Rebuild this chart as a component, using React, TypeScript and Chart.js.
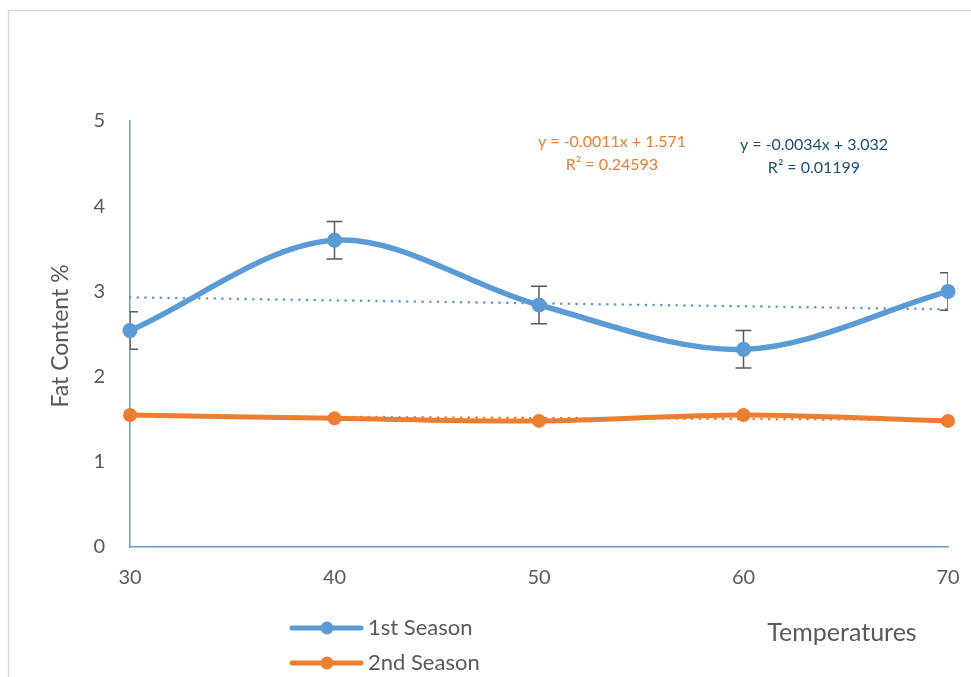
import React, { useEffect, useRef } from "react";
import { Chart, registerables } from "chart.js";

Chart.register(...registerables);

const temperatures = [30, 40, 50, 60, 70];
const season1 = [2.54, 3.6, 2.84, 2.32, 3.0];
const season2 = [1.55, 1.51, 1.48, 1.55, 1.48];
const season1Err = [0.22, 0.22, 0.22, 0.22, 0.22];
const trendX = [30, 70];
const trend1 = [2.93, 2.79];
const trend2 = [1.54, 1.49];
const yTicks = [0, 1, 2, 3, 4, 5];
const seriesNames = ["1st Season", "2nd Season"];
const trendText1 = ["y = -0.0034x + 3.032", "R² = 0.01199"];
const trendText2 = ["y = -0.0011x + 1.571", "R² = 0.24593"];

const BLUE = "#5b9bd5";
const ORANGE = "#ed7d31";
const GRAY = "#595959";
const FONT = "Lato, 'Open Sans', sans-serif";

export default function App() {
  const ref = useRef<HTMLCanvasElement | null>(null);

  useEffect(() => {
    if (!ref.current) return;

    const errorBars = {
      id: "errorBars",
      beforeDatasetDraw(chart: any, args: any) {
        if (args.index !== 0) return;
        const { ctx, chartArea } = chart;
        const xs = chart.scales.x;
        const ys = chart.scales.y;
        ctx.save();
        ctx.beginPath();
        ctx.rect(chartArea.left, chartArea.top, chartArea.right - chartArea.left, chartArea.bottom - chartArea.top);
        ctx.clip();
        ctx.strokeStyle = GRAY;
        ctx.lineWidth = 1.5;
        temperatures.forEach((t, i) => {
          const x = xs.getPixelForValue(t);
          const y1 = ys.getPixelForValue(season1[i] + season1Err[i]);
          const y2 = ys.getPixelForValue(season1[i] - season1Err[i]);
          ctx.beginPath();
          ctx.moveTo(x, y1);
          ctx.lineTo(x, y2);
          ctx.moveTo(x - 8, y1);
          ctx.lineTo(x + 8, y1);
          ctx.moveTo(x - 8, y2);
          ctx.lineTo(x + 8, y2);
          ctx.stroke();
        });
        ctx.restore();
      },
    };

    const decorations = {
      id: "decorations",
      afterDraw(chart: any) {
        const { ctx } = chart;
        ctx.save();
        // frame
        ctx.strokeStyle = "#d9d9d9";
        ctx.lineWidth = 1.5;
        ctx.strokeRect(8.5, 10.5, 1000, 700);

        // y title
        ctx.fillStyle = GRAY;
        ctx.font = `23px ${FONT}`;
        ctx.textAlign = "center";
        ctx.textBaseline = "middle";
        ctx.save();
        ctx.translate(61, 336);
        ctx.rotate(-Math.PI / 2);
        ctx.fillText("Fat Content %", 0, 0);
        ctx.restore();

        // x title
        ctx.font = `25px ${FONT}`;
        ctx.fillText("Temperatures", 842, 633);

        // legend
        const colors = [BLUE, ORANGE];
        const rows = [628, 663];
        seriesNames.forEach((name, i) => {
          const y = rows[i];
          ctx.strokeStyle = colors[i];
          ctx.lineWidth = 5;
          ctx.lineCap = "round";
          ctx.beginPath();
          ctx.moveTo(292, y);
          ctx.lineTo(361, y);
          ctx.stroke();
          ctx.fillStyle = colors[i];
          ctx.beginPath();
          ctx.arc(327, y, 6.5, 0, Math.PI * 2);
          ctx.fill();
          ctx.fillStyle = GRAY;
          ctx.font = `22px ${FONT}`;
          ctx.textAlign = "left";
          ctx.textBaseline = "middle";
          ctx.fillText(name, 368, y);
        });

        // trend equations
        ctx.font = `16px ${FONT}`;
        ctx.textAlign = "center";
        ctx.textBaseline = "middle";
        ctx.fillStyle = ORANGE;
        ctx.fillText(trendText2[0], 612, 142);
        ctx.fillText(trendText2[1], 612, 165);
        ctx.fillStyle = "#1f4e79";
        ctx.fillText(trendText1[0], 814, 145);
        ctx.fillText(trendText1[1], 814, 168);
        ctx.restore();
      },
    };

    const chart = new Chart(ref.current, {
      type: "line",
      data: {
        datasets: [
          {
            label: seriesNames[0],
            data: temperatures.map((t, i) => ({ x: t, y: season1[i] })),
            borderColor: BLUE,
            backgroundColor: BLUE,
            borderWidth: 5.5,
            pointRadius: 7.5,
            pointBorderWidth: 0,
            pointHoverRadius: 7.5,
            tension: 0.33,
            order: 1,
            clip: 8,
          },
          {
            label: seriesNames[1],
            data: temperatures.map((t, i) => ({ x: t, y: season2[i] })),
            borderColor: ORANGE,
            backgroundColor: ORANGE,
            borderWidth: 5,
            pointRadius: 7,
            pointBorderWidth: 0,
            pointHoverRadius: 7,
            tension: 0.33,
            order: 1,
            clip: 8,
          },
          {
            label: "trend1",
            data: trendX.map((t, i) => ({ x: t, y: trend1[i] })),
            borderColor: BLUE,
            borderWidth: 2.5,
            borderDash: [0.1, 7.6],
            borderCapStyle: "round",
            pointRadius: 0,
            order: 2,
          },
          {
            label: "trend2",
            data: trendX.map((t, i) => ({ x: t, y: trend2[i] })),
            borderColor: ORANGE,
            borderWidth: 2.5,
            borderDash: [0.1, 7.6],
            borderCapStyle: "round",
            pointRadius: 0,
            order: 2,
          },
        ],
      },
      options: {
        animation: false,
        responsive: false,
        events: [],
        layout: { padding: { left: 0, right: 23, top: 121, bottom: 0 } },
        plugins: { legend: { display: false }, tooltip: { enabled: false }, title: { display: false } },
        scales: {
          x: {
            type: "linear",
            min: 30,
            max: 70,
            afterBuildTicks: (s: any) => {
              s.ticks = temperatures.map((v) => ({ value: v }));
            },
            afterFit: (s: any) => {
              s.height = 130;
              s.paddingLeft = 0;
              s.paddingRight = 0;
            },
            grid: { display: false, drawTicks: false },
            border: { display: true, color: BLUE, width: 1.5 },
            ticks: { color: GRAY, font: { family: FONT, size: 20 }, padding: 19 },
          },
          y: {
            min: 0,
            max: 5,
            afterBuildTicks: (s: any) => {
              s.ticks = yTicks.map((v) => ({ value: v }));
            },
            afterFit: (s: any) => {
              s.width = 130;
              s.paddingTop = 0;
              s.paddingBottom = 0;
            },
            grid: { display: false, drawTicks: false },
            border: { display: true, color: BLUE, width: 1.5 },
            ticks: { color: GRAY, font: { family: FONT, size: 20 }, padding: 25 },
          },
        },
      },
      plugins: [errorBars, decorations],
    } as any);

    return () => chart.destroy();
  }, []);

  return (
    <div style={{ position: "absolute", left: 0, top: 0, width: 971, height: 677, background: "#fff" }}>
      <canvas ref={ref} width={971} height={677} />
    </div>
  );
}
